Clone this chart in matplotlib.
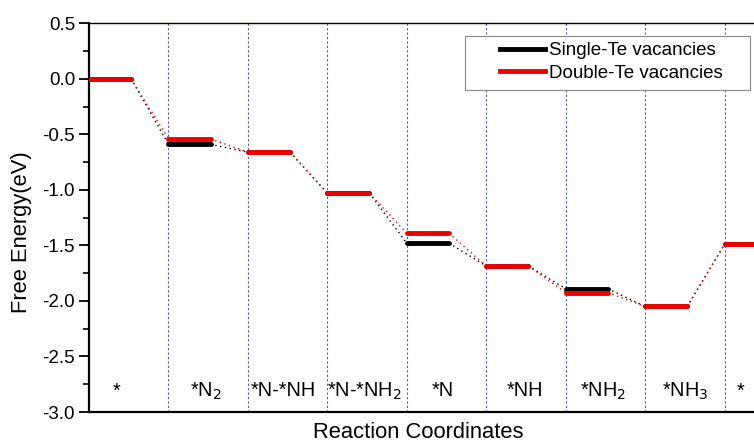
import matplotlib
matplotlib.use("Agg")
import matplotlib.pyplot as plt
from matplotlib.ticker import MultipleLocator
from matplotlib.patches import Rectangle

plt.rcParams['font.family'] = ['Liberation Sans', 'DejaVu Sans']

steps = ["*", "*N$_2$", "*N-*NH", "*N-*NH$_2$", "*N", "*NH", "*NH$_2$", "*NH$_3$", "*"]
single_te = [0.0, -0.59, -0.66, -1.03, -1.48, -1.685, -1.89, -2.05, -1.49]
double_te = [0.0, -0.54, -0.66, -1.03, -1.39, -1.685, -1.925, -2.05, -1.49]
yticks = [0.5, 0.0, -0.5, -1.0, -1.5, -2.0, -2.5, -3.0]

W, H = 754, 443
fig = plt.figure(figsize=(W / 100, H / 100), dpi=100)
ax = fig.add_axes([89 / W, 31 / H, 715 / W, 388.7 / H])

bar_w = 0.53
label_x = [0.35, 1.47, 2.45, 3.47, 4.45, 5.49, 6.47, 7.5, 8.2]
label_y = -2.81

# vertical dotted separators
for i in range(1, len(steps)):
    ax.axvline(i, color='#5555bb', lw=0.8, ls=(0, (2, 2)), zorder=1)

def draw(series, color, z):
    for i, v in enumerate(series):
        ax.plot([i, i + bar_w], [v, v], color=color, lw=3.5, solid_capstyle='round', zorder=z)
        if i + 1 < len(series):
            ax.plot([i + bar_w, i + 1], [v, series[i + 1]], color=color, lw=1.0,
                    ls=(0, (1, 2.5)), zorder=z - 1)

draw(single_te, 'black', 4)
draw(double_te, '#ee0000', 6)

ax.plot([], [], color='black', lw=3.5, label='Single-Te vacancies')
ax.plot([], [], color='#ee0000', lw=3.5, label='Double-Te vacancies')

# legend frame (pixel coords)
frame = Rectangle((465, H - 90), 285, 54, transform=None, facecolor='white',
                  edgecolor='#888888', linewidth=0.8, zorder=9)
fig.patches.append(frame)
leg = fig.legend(*ax.get_legend_handles_labels(), loc='upper left',
                 bbox_to_anchor=(500 / W, 1 - 42 / H), fontsize=13.5, frameon=False,
                 handlelength=2.4, handletextpad=0.2, borderpad=0.0, labelspacing=0.3,
                 borderaxespad=0.0)
leg.set_zorder(10)

for x, s in zip(label_x, steps):
    ax.text(x, label_y, s, ha='center', va='center', fontsize=14.3)

ax.set_xlim(0, 9)
ax.set_ylim(-3.0, 0.5)
ax.set_yticks(yticks)
ax.set_yticklabels([f"{t:.1f}" for t in yticks])
ax.yaxis.set_minor_locator(MultipleLocator(0.25))
ax.set_xticks([])
ax.tick_params(axis='y', which='major', direction='out', length=7, width=1.3, labelsize=13.5, pad=3)
ax.tick_params(axis='y', which='minor', direction='out', length=4, width=1.2)
ax.spines['left'].set_linewidth(1.6)
ax.spines['bottom'].set_linewidth(1.6)
ax.spines['top'].set_linewidth(1.0)
ax.spines['right'].set_visible(False)

fig.text(22 / W, 1 - 232 / H, 'Free Energy(eV)', ha='center', va='center', rotation=90, fontsize=15.8)
fig.text(418 / W, 1 - 433 / H, 'Reaction Coordinates', ha='center', va='center', fontsize=15.8)

fig.savefig('out.png', dpi=100)
